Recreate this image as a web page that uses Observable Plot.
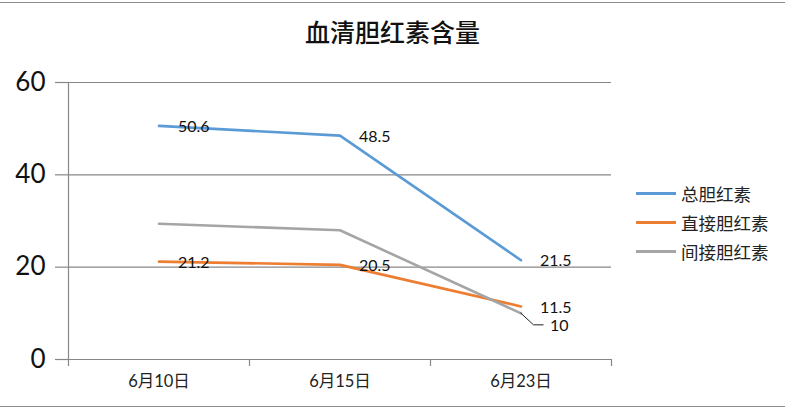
<!DOCTYPE html>
<html><head><meta charset="utf-8">
<script src="https://cdn.jsdelivr.net/npm/d3@7"></script>
<script src="https://cdn.jsdelivr.net/npm/@observablehq/plot@0.6"></script>
<style>
body{margin:0;background:#fff;}
#wrap{position:relative;width:785px;height:411px;overflow:hidden;font-family:Lato,"Noto Sans CJK SC",sans-serif;}
#frame{position:absolute;left:-2px;top:2px;width:789px;height:405px;border-top:1.5px solid #8c8c8c;border-bottom:1.5px solid #8c8c8c;box-sizing:border-box;}
#title{position:absolute;left:0;width:785px;top:13px;text-align:center;font-family:"Noto Sans CJK SC",sans-serif;font-size:25px;font-weight:500;color:#111;}
#legend{position:absolute;left:636px;top:179px;font-family:"Noto Sans CJK SC",sans-serif;font-size:17.5px;color:#222;}
.li{display:flex;align-items:center;height:29px;}
.sw{width:40px;height:3px;margin-right:5px;}
#chart{position:absolute;left:0;top:0;}
</style></head>
<body><div id="wrap"><div id="frame"></div><div id="title"></div><div id="chart"></div><div id="legend"></div></div>
<script>
const title = "血清胆红素含量";
const categories = ["6月10日", "6月15日", "6月23日"];
const seriesNames = ["总胆红素", "直接胆红素", "间接胆红素"];
const seriesColors = ["#5B9BD5", "#ED7D31", "#A5A5A5"];
const totalValues = [50.6, 48.5, 21.5];
const directValues = [21.2, 20.5, 11.5];
const indirectValues = [29.4, 28.0, 10];
const showLabel = [[true,true,true],[true,true,true],[false,false,true]];
const yTicks = [0, 20, 40, 60];

const allValues = [totalValues, directValues, indirectValues];
const data = [];
allValues.forEach((vals, s) => vals.forEach((v, i) => data.push({s: seriesNames[s], i, v, label: showLabel[s][i]})));
const normalLabels = data.filter(d => d.label && d.s !== seriesNames[2]);
const leaderLabels = data.filter(d => d.label && d.s === seriesNames[2]);

document.getElementById("title").textContent = title;
const leg = document.getElementById("legend");
seriesNames.forEach((n, k) => {
  const row = document.createElement("div"); row.className = "li";
  const sw = document.createElement("div"); sw.className = "sw"; sw.style.background = seriesColors[k];
  const t = document.createElement("span"); t.textContent = n;
  row.appendChild(sw); row.appendChild(t); leg.appendChild(row);
});

const boundaries = d3.range(categories.length + 1).map(k => k - 0.5);

function leaderMark(rows) {
  return (index, scales, values, dims, context) => {
    const g = d3.create("svg:g");
    rows.forEach(d => {
      const px = scales.x(d.i), py = scales.y(d.v);
      g.append("path").attr("d", `M${px},${py}L${px+13},${py+12}L${px+23},${py+12}`)
        .attr("fill", "none").attr("stroke", "#222").attr("stroke-width", 1);
    });
    return g.node();
  };
}

const plot = Plot.plot({
  width: 785, height: 411,
  marginLeft: 68, marginRight: 174, marginTop: 82, marginBottom: 52,
  style: {fontFamily: 'Lato,"Noto Sans CJK SC",sans-serif', background: "transparent"},
  x: {type: "linear", domain: [-0.5, categories.length - 0.5]},
  y: {domain: [0, 60]},
  color: {domain: seriesNames, range: seriesColors},
  marks: [
    Plot.ruleY(yTicks, {x1: -0.5, x2: categories.length - 0.5, stroke: "#878787", strokeWidth: 1.2}),
    Plot.ruleX([-0.5], {y1: 0, y2: 60, stroke: "#878787", strokeWidth: 1.2}),
    Plot.axisY({ticks: yTicks, tickSize: 13, tickPadding: 10, fontSize: 26, stroke: "#878787", strokeWidth: 1.2, label: null, color: "#111"}),
    Plot.axisX({ticks: boundaries, tickSize: 7, tickFormat: () => "", stroke: "#878787", strokeWidth: 1.2, label: null}),
    Plot.axisX({ticks: d3.range(categories.length), tickSize: 0, tickPadding: 16, tickFormat: i => categories[i], fontSize: 16.5, label: null, color: "#222"}),
    Plot.line(data, {x: "i", y: "v", z: "s", stroke: "s", strokeWidth: 2.6, curve: "linear"}),
    Plot.text(normalLabels, {x: "i", y: "v", text: d => String(d.v), textAnchor: "start", dx: 19, dy: 1, fontSize: 16, fill: "#111"}),
    Plot.text(leaderLabels, {x: "i", y: "v", text: d => String(d.v), textAnchor: "start", dx: 29, dy: 13, fontSize: 16, fill: "#111"}),
    leaderMark(leaderLabels)
  ]
});
document.getElementById("chart").appendChild(plot);
</script></body></html>
